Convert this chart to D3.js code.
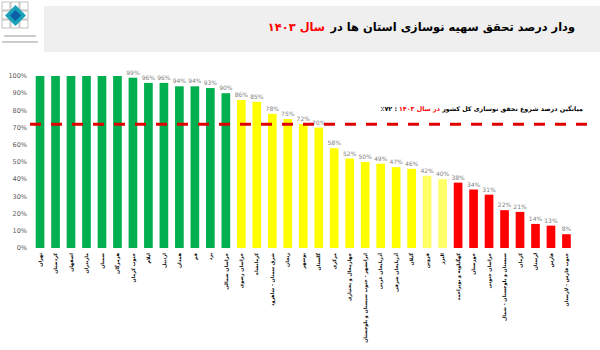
<!DOCTYPE html>
<html>
<head>
<meta charset="utf-8">
<script src="https://cdn.jsdelivr.net/npm/d3@7"></script>
<style>
body{margin:0;background:#fff;}
</style>
</head>
<body>
<script>
var provinces = ["تهران","کردستان","اصفهان","مازندران","سمنان","هرمزگان","جنوب کرمان","ایلام","اردبیل","همدان","قم","یزد","خراسان شمالی",
"خراسان رضوی","کرمانشاه","شرق سمنان - شاهرود","زنجان","بوشهر","گلستان","مرکزی","چهارمحال و بختیاری","ایرانشهر - جنوب سیستان و بلوچستان",
"آذربایجان غربی","آذربایجان شرقی","گیلان","قزوین","البرز",
"کهگیلویه و بویراحمد","خوزستان","خراسان جنوبی","سیستان و بلوچستان - شمال","کرمان","لرستان","فارس","جنوب فارس - لارستان"];
var values = [100,100,100,100,100,100,99,96,96,94,94,93,90,86,85,78,75,72,70,58,52,50,49,47,46,42,40,38,34,31,22,21,14,13,8];
var yTicks = [0,10,20,30,40,50,60,70,80,90,100];
var average = 72;
var titleText = "ودار درصد تحقق سهیه نوسازی استان ها در";
var titleRed = "سال ۱۴۰۳";
var noteText = "میانگین درصد شروع تحقق نوسازی کل کشور";
var noteRed = "در سال ۱۴۰۳";
var noteValue = "٪۷۲ :";

var width = 600;
var height = 350;

var svg = d3.select("body")
.append("svg")
.attr("width",width)
.attr("height",height)
.style("font-family","'DejaVu Sans', sans-serif");

// header band + logo
svg.append("rect")
.attr("x",44).attr("y",6)
.attr("width",width-44).attr("height",46)
.attr("fill","#efefef");

var logo = svg.append("g").attr("transform","translate(2,2)");
for(var r = 0; r < 3; r++){
	for(var c = 0; c < 3; c++){
		logo.append("rect")
		.attr("x",c*9).attr("y",r*9)
		.attr("width",8).attr("height",8)
		.attr("fill","#fff")
		.attr("stroke","#9a9a9a")
		.attr("stroke-width",0.6);
	}
}
logo.append("path")
.attr("d","M13.5,3 L24,13.5 L13.5,24 L3,13.5 Z")
.attr("fill","#1aa0b8");
logo.append("path")
.attr("d","M13.5,8 L19,13.5 L13.5,19 L8,13.5 Z")
.attr("fill","#0d5fa8");
logo.append("line").attr("x1",2).attr("x2",34).attr("y1",34).attr("y2",34).attr("stroke","#bbb").attr("stroke-width",1.5);
logo.append("line").attr("x1",0).attr("x2",36).attr("y1",40).attr("y2",40).attr("stroke","#bbb").attr("stroke-width",1.5);

// fit a text element to a target width
function fit(sel, target){
	var w = sel.node().getComputedTextLength();
	var fs = parseFloat(sel.attr("font-size"));
	sel.attr("font-size", fs*target/w);
}

var t1 = svg.append("text")
.attr("x",575).attr("y",31)
.attr("text-anchor","end")
.attr("font-size",13)
.attr("font-weight","bold")
.attr("fill","#000")
.text(titleText);
fit(t1,245);
svg.append("text")
.attr("x",575-245-5).attr("y",31)
.attr("text-anchor","end")
.attr("font-size",t1.attr("font-size"))
.attr("font-weight","bold")
.attr("fill","#ff0000")
.text(titleRed);

// chart
var x = d3.scaleBand()
.domain(d3.range(values.length))
.range([32.3,574.2])
.paddingInner(0.44)
.paddingOuter(0.22);

var y = d3.scaleLinear()
.domain([0,100])
.range([248,76]);

var color = d3.scaleThreshold()
.domain([40,45,90])
.range(["#ff0000","#ffff66","#ffff00","#00b050"]);

svg.append("g")
.selectAll("text")
.data(yTicks)
.enter()
.append("text")
.attr("x",27)
.attr("y",function(d){ return y(d); })
.attr("dy","0.35em")
.attr("text-anchor","end")
.attr("font-size",6.5)
.attr("fill","#595959")
.text(function(d){ return d + "%"; });

svg.selectAll(".bar")
.data(values)
.enter()
.append("rect")
.attr("class","bar")
.attr("x",function(d,i){ return x(i); })
.attr("y",function(d){ return y(d); })
.attr("width",x.bandwidth())
.attr("height",function(d){ return y(0) - y(d); })
.attr("fill",function(d){ return color(d); });

// value labels (the 100% ones are not shown)
svg.selectAll(".val")
.data(values.map(function(d,i){ return {v:d,i:i}; }).filter(function(d){ return d.v < 100; }))
.enter()
.append("text")
.attr("class","val")
.attr("x",function(d){ return x(d.i) + x.bandwidth()/2; })
.attr("y",function(d){ return y(d.v) - 3; })
.attr("text-anchor","middle")
.attr("font-size",6)
.attr("fill","#7f7f7f")
.text(function(d){ return d.v + "%"; });

// category labels
svg.selectAll(".cat")
.data(provinces)
.enter()
.append("text")
.attr("class","cat")
.attr("transform",function(d,i){
	return "translate(" + (x(i) + x.bandwidth()/2) + ",253) rotate(-90)";
})
.attr("dy","0.35em")
.attr("text-anchor","end")
.attr("font-size",4.8)
.attr("font-weight","bold")
.attr("fill","#000")
.text(function(d){ return d; });

// average line
svg.append("line")
.attr("x1",30).attr("x2",592)
.attr("y1",y(average)).attr("y2",y(average))
.attr("stroke","#e00000")
.attr("stroke-width",3)
.attr("stroke-dasharray","11,10");

var n1 = svg.append("text")
.attr("x",583).attr("y",111)
.attr("text-anchor","end")
.attr("font-size",8)
.attr("font-weight","bold")
.attr("fill","#000")
.text(noteText);
fit(n1,141);
var n2 = svg.append("text")
.attr("x",583-141-2).attr("y",111)
.attr("text-anchor","end")
.attr("font-size",n1.attr("font-size"))
.attr("font-weight","bold")
.attr("fill","#ff0000")
.text(noteRed);
var w2 = n2.node().getComputedTextLength();
svg.append("text")
.attr("x",583-141-2-w2-2).attr("y",111)
.attr("text-anchor","end")
.attr("font-size",n1.attr("font-size"))
.attr("font-weight","bold")
.attr("fill","#000")
.text(noteValue);
</script>
</body>
</html>
